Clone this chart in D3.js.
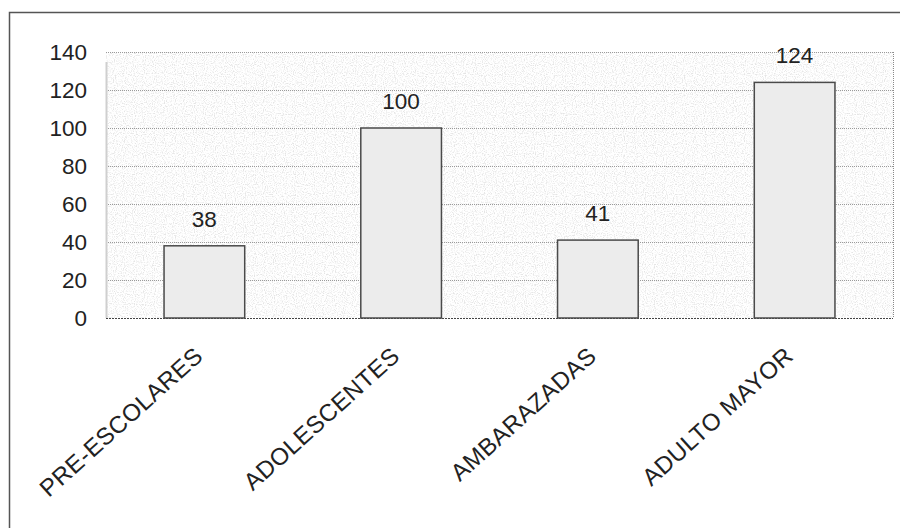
<!DOCTYPE html>
<html>
<head>
<meta charset="utf-8">
<script src="https://cdn.jsdelivr.net/npm/d3@7"></script>
<style>
  html, body { margin: 0; padding: 0; background: #fff; }
  svg { display: block; }
  text { font-family: "Liberation Sans", Arial, sans-serif; fill: #222; }
</style>
</head>
<body>
<script>
// Group categories and counts
const categories = ["PRE-ESCOLARES", "ADOLESCENTES", "AMBARAZADAS", "ADULTO MAYOR"];
const values = [38, 100, 41, 124];
const yTicks = [0, 20, 40, 60, 80, 100, 120, 140];

const W = 900, H = 528;
const plot = { left: 106, right: 893, top: 52, bottom: 318 };
const FS = 22.5;

const svg = d3.select("body").append("svg")
  .attr("width", W).attr("height", H);

const defs = svg.append("defs");
// light stippled texture for the plot background
const noise = defs.append("filter").attr("id", "stipple")
  .attr("x", 0).attr("y", 0).attr("width", "100%").attr("height", "100%");
noise.append("feTurbulence").attr("type", "fractalNoise")
  .attr("baseFrequency", 0.9).attr("numOctaves", 1).attr("seed", 4).attr("result", "n");
noise.append("feColorMatrix").attr("in", "n").attr("type", "matrix")
  .attr("values", "0 0 0 0 0.4  0 0 0 0 0.4  0 0 0 0 0.4  0 0 0 -4 2.1")
  .attr("result", "dots");
noise.append("feComposite").attr("in", "dots").attr("in2", "SourceGraphic").attr("operator", "in");

// outer frame (left and top edges)
svg.append("path")
  .attr("d", `M9.5,${H} L9.5,12.5 L${W},12.5`)
  .attr("fill", "none").attr("stroke", "#555").attr("stroke-width", 1.5);

const x = d3.scaleBand().domain(categories)
  .range([plot.left, plot.right]).paddingInner(0.59).paddingOuter(0.295);
const y = d3.scaleLinear().domain([0, 140]).range([plot.bottom, plot.top]);

// textured background
svg.append("rect")
  .attr("x", plot.left).attr("y", plot.top)
  .attr("width", plot.right - plot.left).attr("height", plot.bottom - plot.top)
  .attr("fill", "#fff").attr("filter", "url(#stipple)").attr("opacity", 0.3);

// gridlines
svg.append("g").selectAll("line").data(yTicks.filter(d => d > 0)).join("line")
  .attr("x1", plot.left).attr("x2", plot.right)
  .attr("y1", d => Math.round(y(d)) + 0.5).attr("y2", d => Math.round(y(d)) + 0.5)
  .attr("stroke", "#9a9a9a").attr("stroke-width", 1).attr("stroke-dasharray", "1,1");

// right border of plot
svg.append("line")
  .attr("x1", plot.right + 0.5).attr("x2", plot.right + 0.5)
  .attr("y1", plot.top).attr("y2", plot.bottom)
  .attr("stroke", "#888").attr("stroke-dasharray", "1,1");

// y axis line
svg.append("line")
  .attr("x1", plot.left + 0.5).attr("x2", plot.left + 0.5)
  .attr("y1", plot.top + 10).attr("y2", plot.bottom)
  .attr("stroke", "#cfcfcf").attr("stroke-width", 2);

// y axis labels
const yAxis = d3.axisLeft(y).tickValues(yTicks).tickSize(0).tickPadding(19);
const gy = svg.append("g").attr("transform", `translate(${plot.left},0)`).call(yAxis);
gy.select(".domain").remove();
gy.selectAll("text").attr("font-size", FS).attr("fill", "#222")
  .style("font-family", '"Liberation Sans", Arial, sans-serif');

// baseline
svg.append("line")
  .attr("x1", plot.left).attr("x2", plot.right)
  .attr("y1", plot.bottom + 0.5).attr("y2", plot.bottom + 0.5)
  .attr("stroke", "#444").attr("stroke-width", 1).attr("stroke-dasharray", "2,1");

// bars
const bars = svg.append("g").selectAll("g").data(categories).join("g");
bars.append("rect")
  .attr("x", d => x(d)).attr("width", x.bandwidth())
  .attr("y", (d, i) => y(values[i]))
  .attr("height", (d, i) => y(0) - y(values[i]))
  .attr("fill", "#ececec").attr("stroke", "#4a4a4a").attr("stroke-width", 1.5);

// value labels
bars.append("text")
  .attr("x", d => x(d) + x.bandwidth() / 2)
  .attr("y", (d, i) => y(values[i]) - 19)
  .attr("text-anchor", "middle").attr("font-size", FS)
  .text((d, i) => values[i]);

// category labels
svg.append("g").selectAll("text").data(categories).join("text")
  .attr("transform", d => `translate(${x(d) + x.bandwidth() / 2},358) rotate(-42)`)
  .attr("text-anchor", "end").attr("font-size", 24)
  .attr("letter-spacing", 0.4)
  .text(d => d);
</script>
</body>
</html>
